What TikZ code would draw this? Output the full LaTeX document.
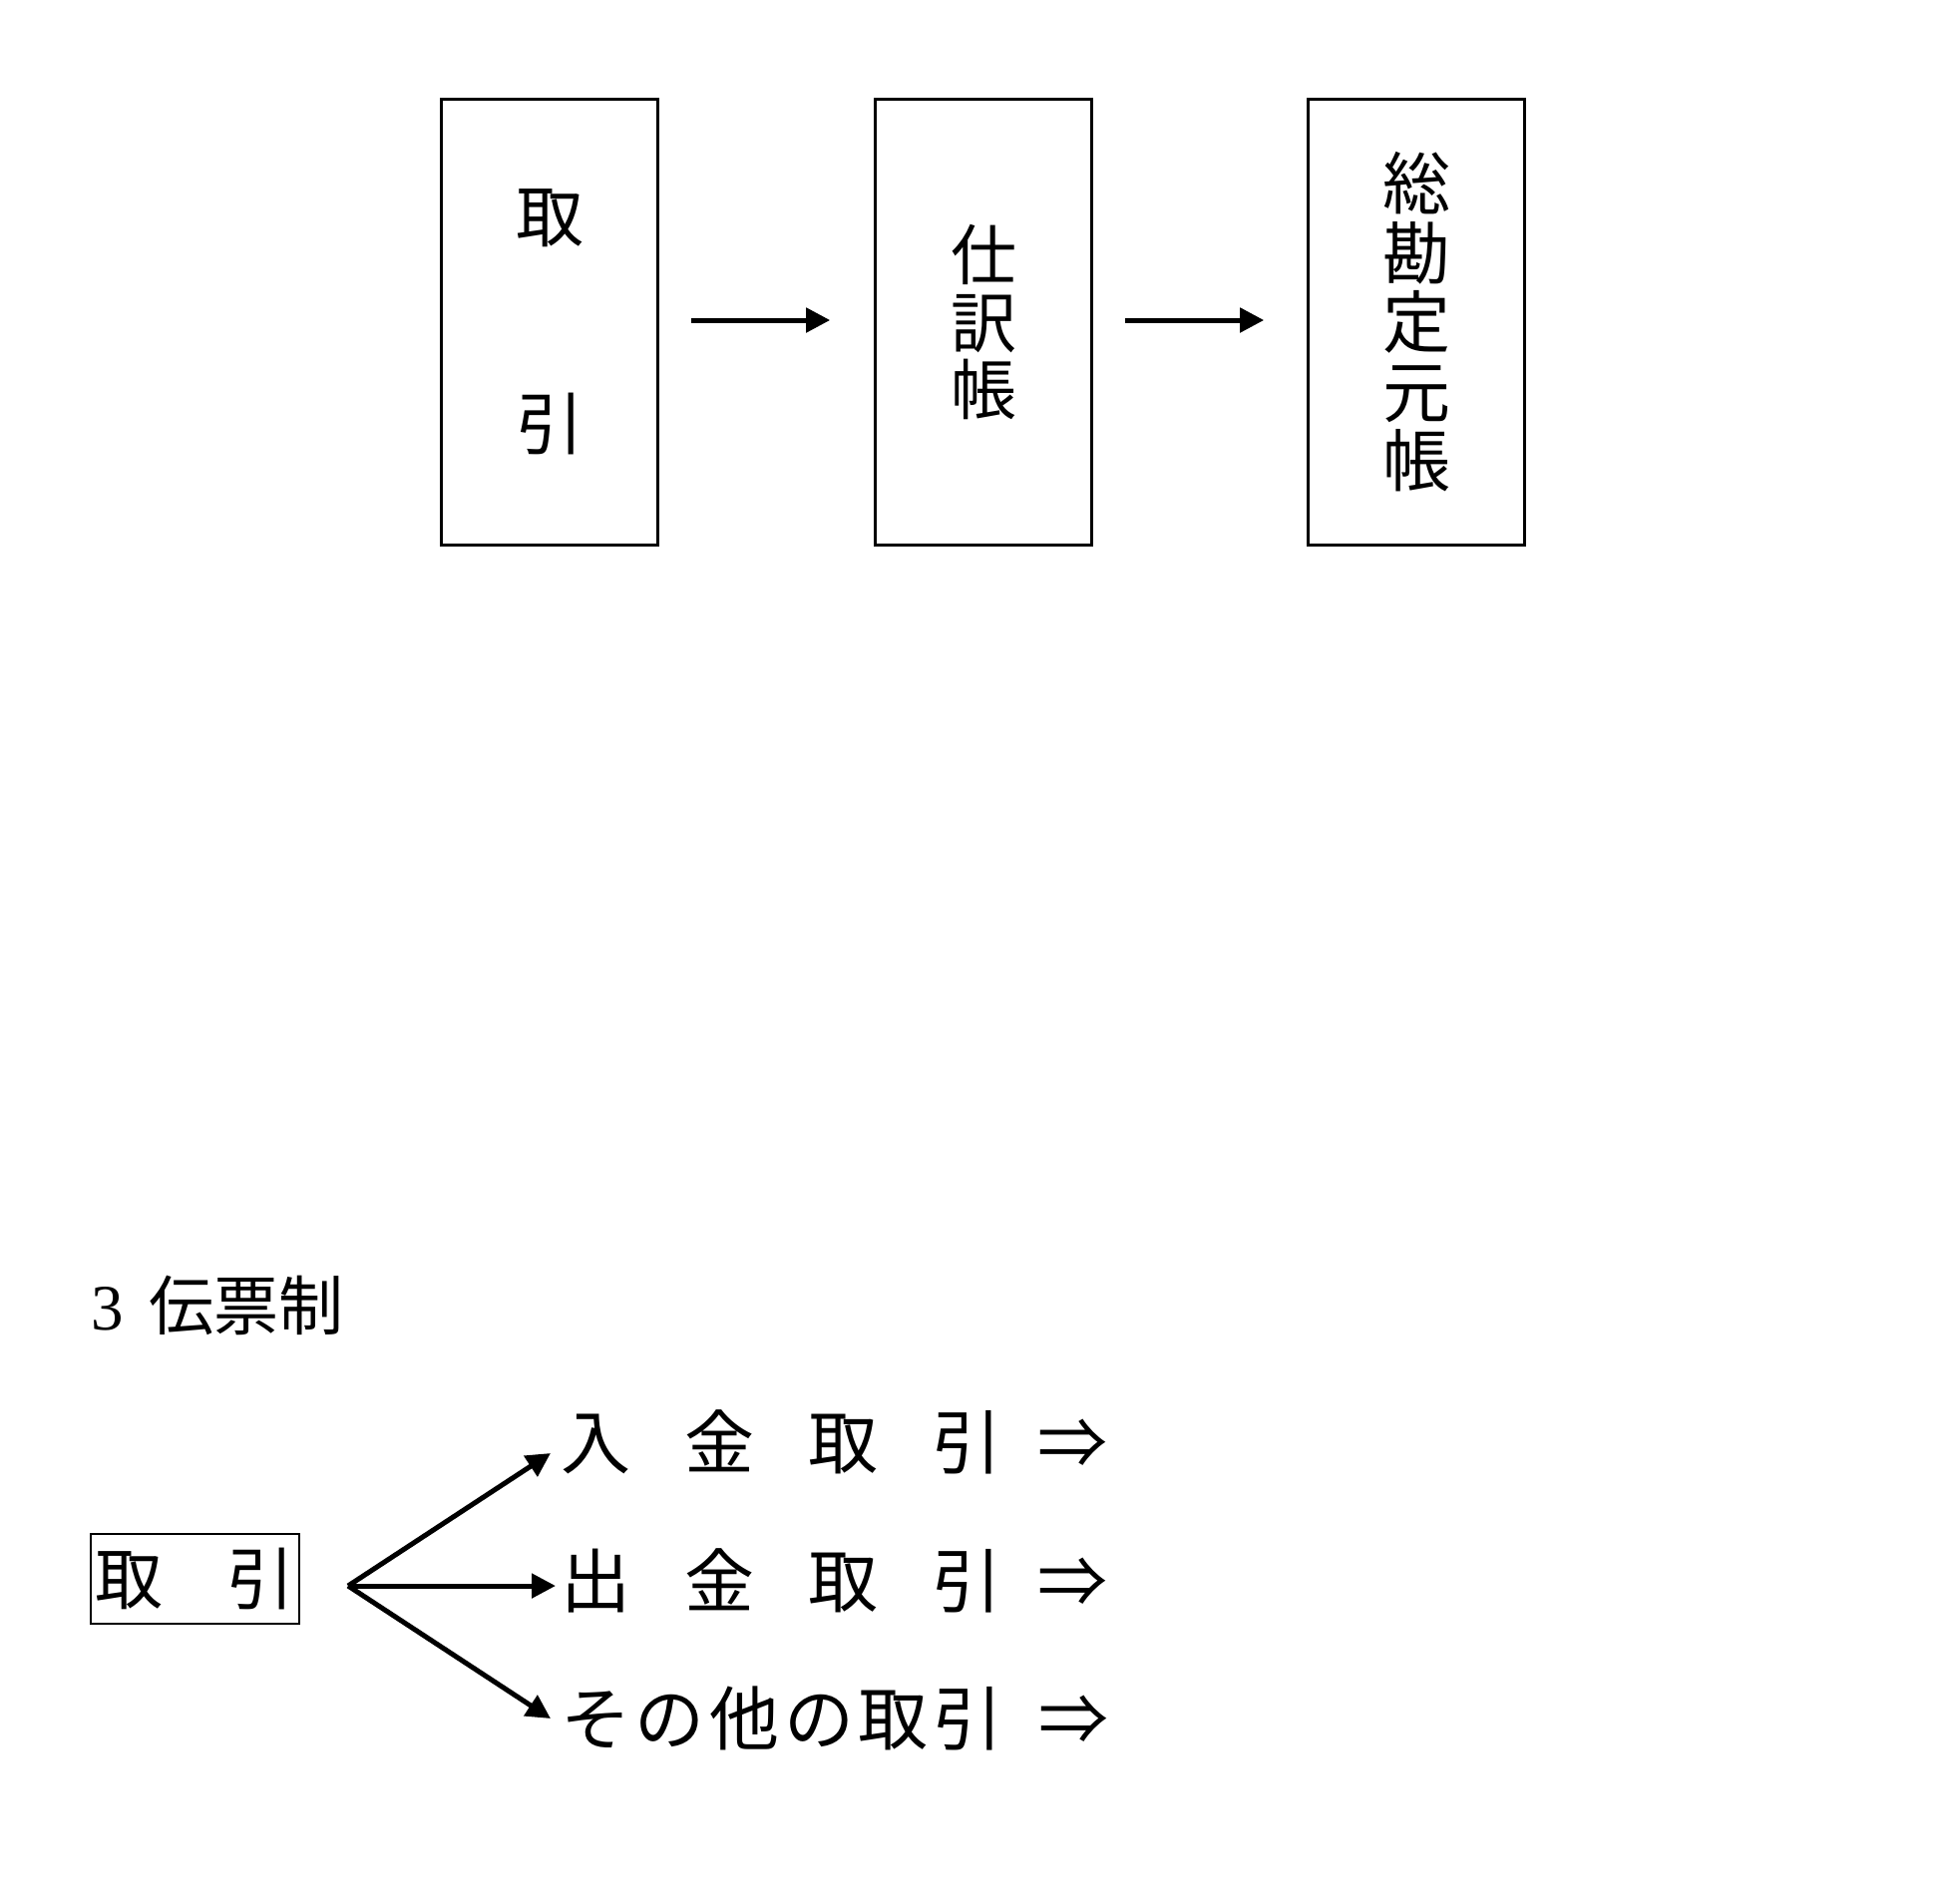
\documentclass[tikz,border=0pt]{standalone}
\usepackage{fontspec}
\setmainfont{Liberation Serif}
\newfontfamily\cjk{Noto Sans CJK JP}
\usetikzlibrary{arrows.meta}
\newcommand{\cbx}[2]{\makebox[#1pt][c]{#2}}
\begin{document}
\begin{tikzpicture}[x=0.5pt,y=-0.5pt,
  bigbox/.style={draw,line width=1.3pt,minimum width=108.5pt,minimum height=223.75pt,inner sep=0pt,align=center},
  flow/.style={line width=2.5pt,-{Triangle[length=12pt,width=12pt]}},
  txt/.style={inner sep=0pt,font=\cjk\fontsize{35}{40}\selectfont}]
\path[use as bounding box] (0,0) rectangle (1949,1908);
% top flow
\node[bigbox,font=\cjk\fontsize{34}{104}\selectfont] (b1) at (551,323) {\raisebox{-3pt}{取}\\\raisebox{-3pt}{引}};
\node[bigbox,font=\cjk\fontsize{33}{33.75}\selectfont] (b2) at (986,323) {仕\\訳\\帳};
\node[bigbox,font=\cjk\fontsize{34}{34.75}\selectfont] (b3) at (1420,323) {総\\勘\\定\\元\\帳};
\draw[flow] ([xshift=16pt,yshift=1pt]b1.east) -- ([xshift=-22pt,yshift=1pt]b2.west);
\draw[flow] ([xshift=16pt,yshift=1pt]b2.east) -- ([xshift=-21.5pt,yshift=1pt]b3.west);
% title
\node[txt,anchor=west,font=\cjk\fontsize{32.5}{38}\selectfont] (title) at (91,1309) {{\rmfamily 3}\hspace{13pt}伝票制};
% slip system
\node[draw,line width=0.8pt,minimum width=104.5pt,minimum height=45pt,inner sep=0pt,font=\cjk\fontsize{34}{40}\selectfont] (tb) at (195.5,1583) {\makebox[100pt]{取\hfill 引}};
\coordinate (o) at (349,1590);
\coordinate (t1) at (552,1457);
\coordinate (t2) at (557,1590);
\coordinate (t3) at (552,1723);
\draw[flow] (o) -- (t1);
\draw[flow] (o) -- (t2);
\draw[flow] (o) -- (t3);
\node[txt,anchor=west] (r1) at (535,1446) {\cbx{62}{入}\cbx{62}{金}\cbx{62}{取}\cbx{62}{引}\cbx{44}{⇒}};
\node[txt,anchor=west] (r2) at (535,1585) {\cbx{62}{出}\cbx{62}{金}\cbx{62}{取}\cbx{62}{引}\cbx{44}{⇒}};
\node[txt,anchor=west] (r3) at (559.7,1723) {\cbx{37.3}{そ}\cbx{37.3}{の}\cbx{37.3}{他}\cbx{37.3}{の}\cbx{37.3}{取}\cbx{37.3}{引}\cbx{69}{⇒}};
\end{tikzpicture}
\end{document}
